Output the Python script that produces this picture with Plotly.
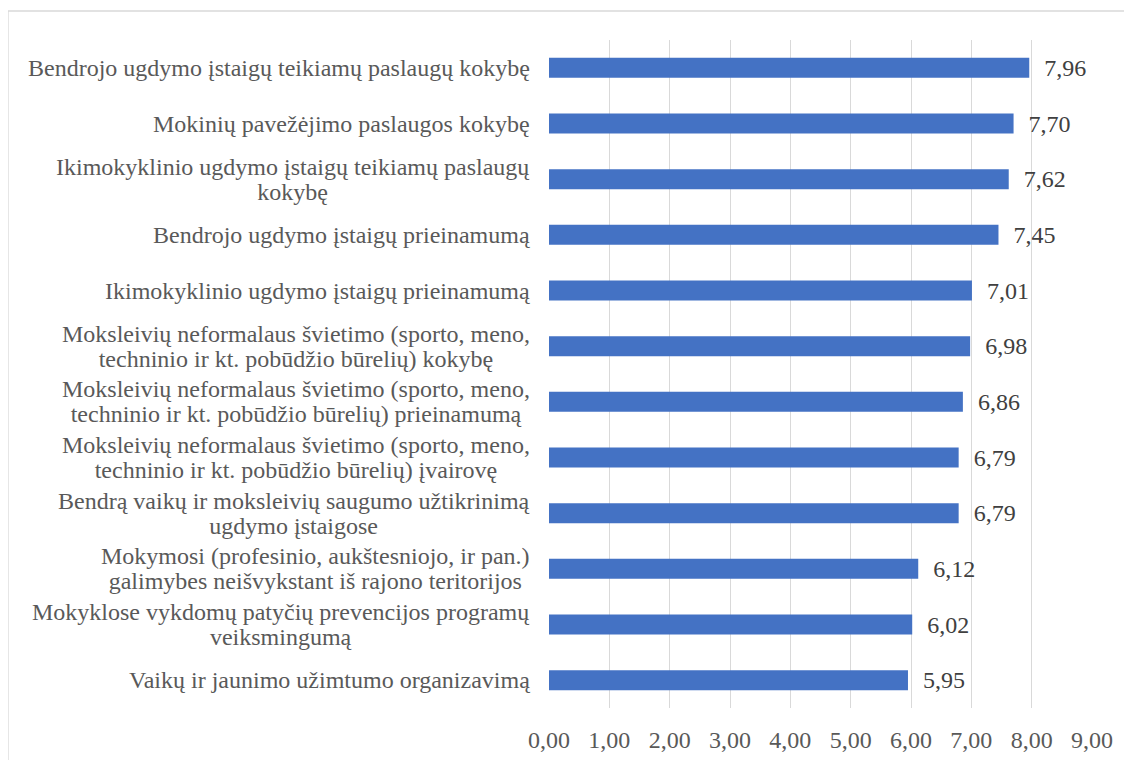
import plotly.graph_objects as go

categories = [
    "Bendrojo ugdymo įstaigų teikiamų paslaugų kokybę",
    "Mokinių pavežėjimo paslaugos kokybę",
    "Ikimokyklinio ugdymo įstaigų teikiamų paslaugų<br>kokybę",
    "Bendrojo ugdymo įstaigų prieinamumą",
    "Ikimokyklinio ugdymo įstaigų prieinamumą",
    "Moksleivių neformalaus švietimo (sporto, meno,<br>techninio ir kt. pobūdžio būrelių) kokybę",
    "Moksleivių neformalaus švietimo (sporto, meno,<br>techninio ir kt. pobūdžio būrelių) prieinamumą",
    "Moksleivių neformalaus švietimo (sporto, meno,<br>techninio ir kt. pobūdžio būrelių) įvairovę",
    "Bendrą vaikų ir moksleivių saugumo užtikrinimą<br>ugdymo įstaigose",
    "Mokymosi (profesinio, aukštesniojo, ir pan.)<br>galimybes neišvykstant iš rajono teritorijos",
    "Mokyklose vykdomų patyčių prevencijos programų<br>veiksmingumą",
    "Vaikų ir jaunimo užimtumo organizavimą",
]
scores = [7.96, 7.70, 7.62, 7.45, 7.01, 6.98, 6.86, 6.79, 6.79, 6.12, 6.02, 5.95]
x_ticks = [0, 1, 2, 3, 4, 5, 6, 7, 8, 9]

FONT = "Liberation Serif, Times New Roman, serif"
ids = list(range(len(categories)))

fig = go.Figure(
    go.Bar(
        x=scores,
        y=ids,
        orientation="h",
        marker=dict(color="#4472c4", line=dict(width=0)),
        texttemplate="\u00a0\u00a0%{x:.2f}",
        textposition="outside",
        constraintext="none",
        textfont=dict(family=FONT, size=24, color="#404040"),
        cliponaxis=False,
    )
)

# category labels: lines centred on each other, tight line spacing like the original
for i, label in zip(ids, categories):
    lines = label.split("<br>")
    text = "<br>".join(f'<span style="font-size:24px">{ln}</span>' for ln in lines)
    fig.add_annotation(
        x=0, y=i, xref="x", yref="y", text=text, showarrow=False,
        xanchor="right", yanchor="middle", align="center", xshift=-17,
        font=dict(family=FONT, size=19, color="#595959"),
    )

# outer chart border (top and left edges visible)
fig.add_shape(
    type="rect", xref="paper", yref="paper",
    x0=-0.9963, x1=1.09, y0=-0.1, y1=1.0434,
    line=dict(color="#d9d9d9", width=1.3), fillcolor="rgba(0,0,0,0)",
)

fig.update_layout(
    width=1132,
    height=760,
    margin=dict(l=541, r=48, t=32, b=60),
    paper_bgcolor="white",
    plot_bgcolor="white",
    separators=", ",
    showlegend=False,
    bargap=0.64,
    font=dict(family=FONT, color="#595959"),
)
fig.update_xaxes(
    range=[0, 9],
    tickvals=x_ticks,
    tickformat=".2f",
    showgrid=True,
    gridcolor="#d9d9d9",
    gridwidth=1.3,
    zeroline=False,
    showline=False,
    ticks="",
    ticklabelstandoff=15,
    tickfont=dict(family=FONT, size=24, color="#595959"),
)
fig.update_yaxes(
    range=[len(categories) - 0.5, -0.5],
    showticklabels=False,
    showgrid=False,
    zeroline=False,
    ticks="",
)

fig.write_html("out.html")
